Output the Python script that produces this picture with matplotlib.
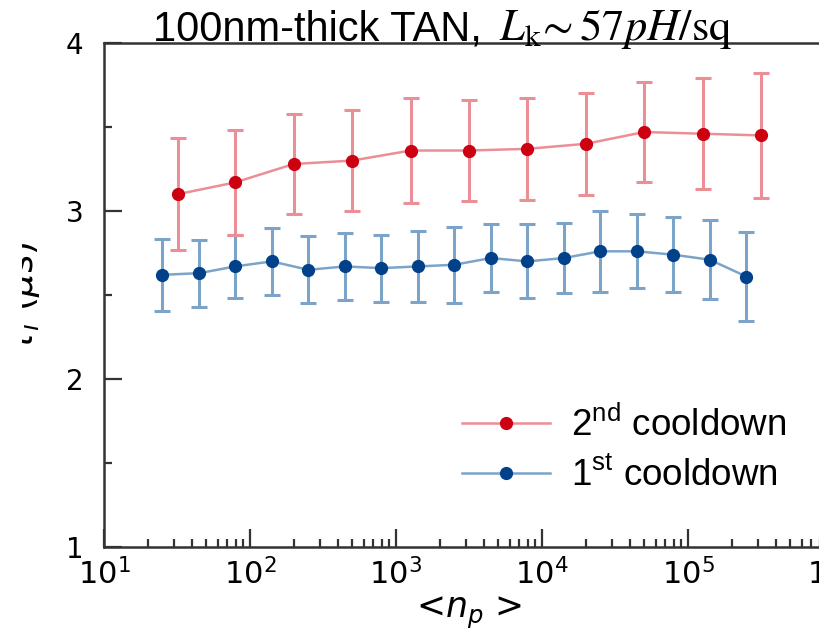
import matplotlib
matplotlib.use("Agg")
import matplotlib.pyplot as plt
from matplotlib.lines import Line2D
from matplotlib.ticker import LogLocator, MultipleLocator, NullFormatter
from matplotlib.transforms import Bbox, TransformedBbox

# 2nd cooldown
red_np = [32, 79, 200, 500, 1260, 3160, 7940, 20000, 50100, 126000, 316000]
red_val = [3.10, 3.17, 3.28, 3.30, 3.36, 3.36, 3.37, 3.40, 3.47, 3.46, 3.45]
red_err = [0.335, 0.31, 0.30, 0.30, 0.315, 0.30, 0.305, 0.305, 0.295, 0.33, 0.37]

# 1st cooldown
blue_np = [25, 45, 79, 141, 251, 447, 794, 1410, 2510, 4470, 7940, 14100,
           25100, 44700, 79400, 141000, 251000]
blue_val = [2.62, 2.63, 2.67, 2.70, 2.65, 2.67, 2.66, 2.67, 2.68, 2.72, 2.70,
            2.72, 2.76, 2.76, 2.74, 2.71, 2.61]
blue_err = [0.215, 0.20, 0.19, 0.20, 0.20, 0.20, 0.20, 0.21, 0.225, 0.20, 0.22,
            0.21, 0.24, 0.22, 0.225, 0.235, 0.265]

labels = [r"2$^{\rm nd}$ cooldown", r"1$^{\rm st}$ cooldown"]

red_dark, red_light = "#cc0010", "#ec8e95"
blue_dark, blue_light = "#00418a", "#7ca4c9"

plt.rcParams["font.family"] = "DejaVu Sans"
plt.rcParams["mathtext.rm"] = "Liberation Sans"

W, H = 819, 644
fig = plt.figure(figsize=(W / 100, H / 100), dpi=100)
ax = fig.add_axes([104 / W, 1 - 547 / H, 730 / W, 504 / H])

for xs, ys, es, dark, light in [(blue_np, blue_val, blue_err, blue_dark, blue_light),
                                (red_np, red_val, red_err, red_dark, red_light)]:
    ax.errorbar(xs, ys, yerr=es, fmt="-", color=light, lw=1.8,
                elinewidth=2.2, capsize=6, capthick=2.2)
    ax.plot(xs, ys, "o", color=dark, ms=8.5, zorder=5)

ax.set_xscale("log")
ax.set_xlim(10, 1e6)
ax.set_ylim(1, 4)
ax.yaxis.set_major_locator(MultipleLocator(1))
ax.yaxis.set_minor_locator(MultipleLocator(0.5))
ax.xaxis.set_minor_locator(LogLocator(base=10, subs=range(2, 10)))
ax.xaxis.set_minor_formatter(NullFormatter())

ax.tick_params(which="both", direction="in", top=False, right=False,
               color="#333333", width=1.6)
ax.tick_params(which="major", length=13)
ax.tick_params(which="minor", length=6)
ax.tick_params(axis="y", labelsize=20, pad=15)
ax.tick_params(axis="x", labelsize=22, pad=8)
for sp in ax.spines.values():
    sp.set_color("#333333")
    sp.set_linewidth(1.8)

ax.set_xlabel(r"<$n_p$ >", fontsize=25, labelpad=3)

handles = [Line2D([], [], color=red_light, lw=1.8, marker="o", ms=8.5,
                  mfc=red_dark, mec=red_dark),
           Line2D([], [], color=blue_light, lw=1.8, marker="o", ms=8.5,
                  mfc=blue_dark, mec=blue_dark)]
leg = ax.legend(handles, labels, loc="upper left",
                bbox_to_anchor=(462 / W, 1 - 406 / H), bbox_transform=fig.transFigure,
                frameon=False, prop={"family": "Liberation Sans", "size": 26.5},
                handlelength=2.4, handletextpad=0.55, labelspacing=0.38,
                borderpad=0, borderaxespad=0)
for t in leg.get_texts():
    t.set_math_fontfamily("custom")

# title sits right on the top spine
fig.text(153 / W, 1 - 40 / H, "100nm-thick TAN,", fontsize=30,
         family="Liberation Sans", va="baseline")
fig.text(499 / W, 1 - 40 / H, r"$L_{\mathrm{k}}\!\sim 57pH/\mathrm{sq}$",
         fontsize=32, math_fontfamily="stix", va="baseline")

# y label, only its edge shows at the left border
ylab = fig.text(42 / W, 1 - 297 / H, r"$\tau_i$ ($\mu$s)", rotation=90,
                fontsize=26, ha="right", va="center")
ylab.set_clip_box(TransformedBbox(Bbox.from_extents(22 / W, 0, 1, 1), fig.transFigure))
ylab.set_clip_on(True)

fig.savefig("out.png", dpi=100)
